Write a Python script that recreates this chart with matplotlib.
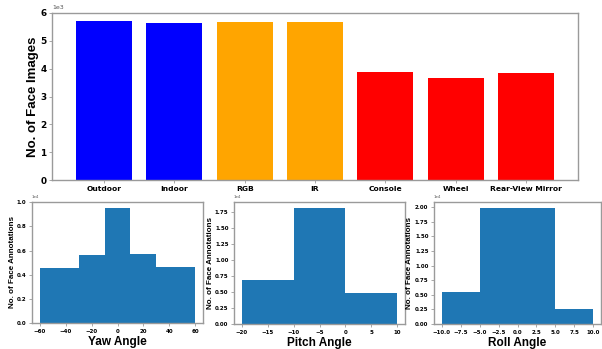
import matplotlib
matplotlib.use("Agg")
import matplotlib.pyplot as plt
from matplotlib.ticker import MultipleLocator

# top bar chart
categories = ["Outdoor", "Indoor", "RGB", "IR", "Console", "Wheel", "Rear-View Mirror"]
counts = [5710, 5650, 5680, 5680, 3870, 3660, 3840]
bar_colors = ["blue", "blue", "orange", "orange", "red", "red", "red"]

# angle histograms (counts per bin)
yaw_edges = [-60, -30, -10, 10, 30, 60]
yaw_counts = [4550, 5650, 9550, 5700, 4650]
pitch_edges = [-20, -10, 0, 10]
pitch_counts = [6900, 18100, 4800]
roll_edges = [-10, -5, 5, 10]
roll_counts = [5400, 19900, 2500]

W, H = 602, 349
fig = plt.figure(figsize=(W / 100, H / 100), dpi=100)

def box(l, t, r, b):
    return [l / W, 1 - b / H, (r - l) / W, (b - t) / H]

label_font = "Liberation Sans"
spine_col = "#9a9a9a"

def style(ax, tsize):
    for s in ax.spines.values():
        s.set_color(spine_col)
        s.set_linewidth(1.0)
    ax.tick_params(colors=spine_col, labelcolor="black", labelsize=tsize,
                   length=2.5, width=0.6, pad=1.5)
    for lab in ax.get_xticklabels() + ax.get_yticklabels():
        lab.set_fontweight("bold")
    ax.ticklabel_format(axis="y", style="sci", scilimits=(0, 0), useMathText=False)
    ax.yaxis.get_offset_text().set_fontsize(tsize * 0.7)
    ax.yaxis.get_offset_text().set_color("#555555")

ax = fig.add_axes(box(52, 13, 578, 180))
ax.bar(categories, counts, color=bar_colors, width=0.8)
ax.set_ylim(0, 6000)
ax.set_ylabel("No. of Face Images", fontsize=9.5, fontweight="bold", family=label_font)
ax.yaxis.set_label_coords(-0.024, 0.5)
style(ax, 6.4)
for lab in ax.get_xticklabels():
    lab.set_fontsize(5.4)

hists = [
    (box(32, 202, 203, 323), yaw_edges, yaw_counts, "Yaw Angle", 20, -0.092),
    (box(234, 202, 405, 324), pitch_edges, pitch_counts, "Pitch Angle", 5, -0.118),
    (box(434, 202, 601, 324), roll_edges, roll_counts, "Roll Angle", 2.5, -0.128),
]
for rect, edges, vals, name, step, lx in hists:
    a = fig.add_axes(rect)
    a.hist(edges[:-1], bins=edges, weights=vals, color="#1f77b4")
    a.xaxis.set_major_locator(MultipleLocator(step))
    a.set_xlim(edges[0] - 0.05 * (edges[-1] - edges[0]),
               edges[-1] + 0.05 * (edges[-1] - edges[0]))
    a.set_xlabel(name, fontsize=8.5, fontweight="bold", family=label_font, labelpad=2)
    a.set_ylabel("No. of Face Annotations", fontsize=5.8, fontweight="bold",
                 family=label_font)
    a.yaxis.set_label_coords(lx, 0.5)
    style(a, 4.0)

fig.savefig("out.png", dpi=100)
